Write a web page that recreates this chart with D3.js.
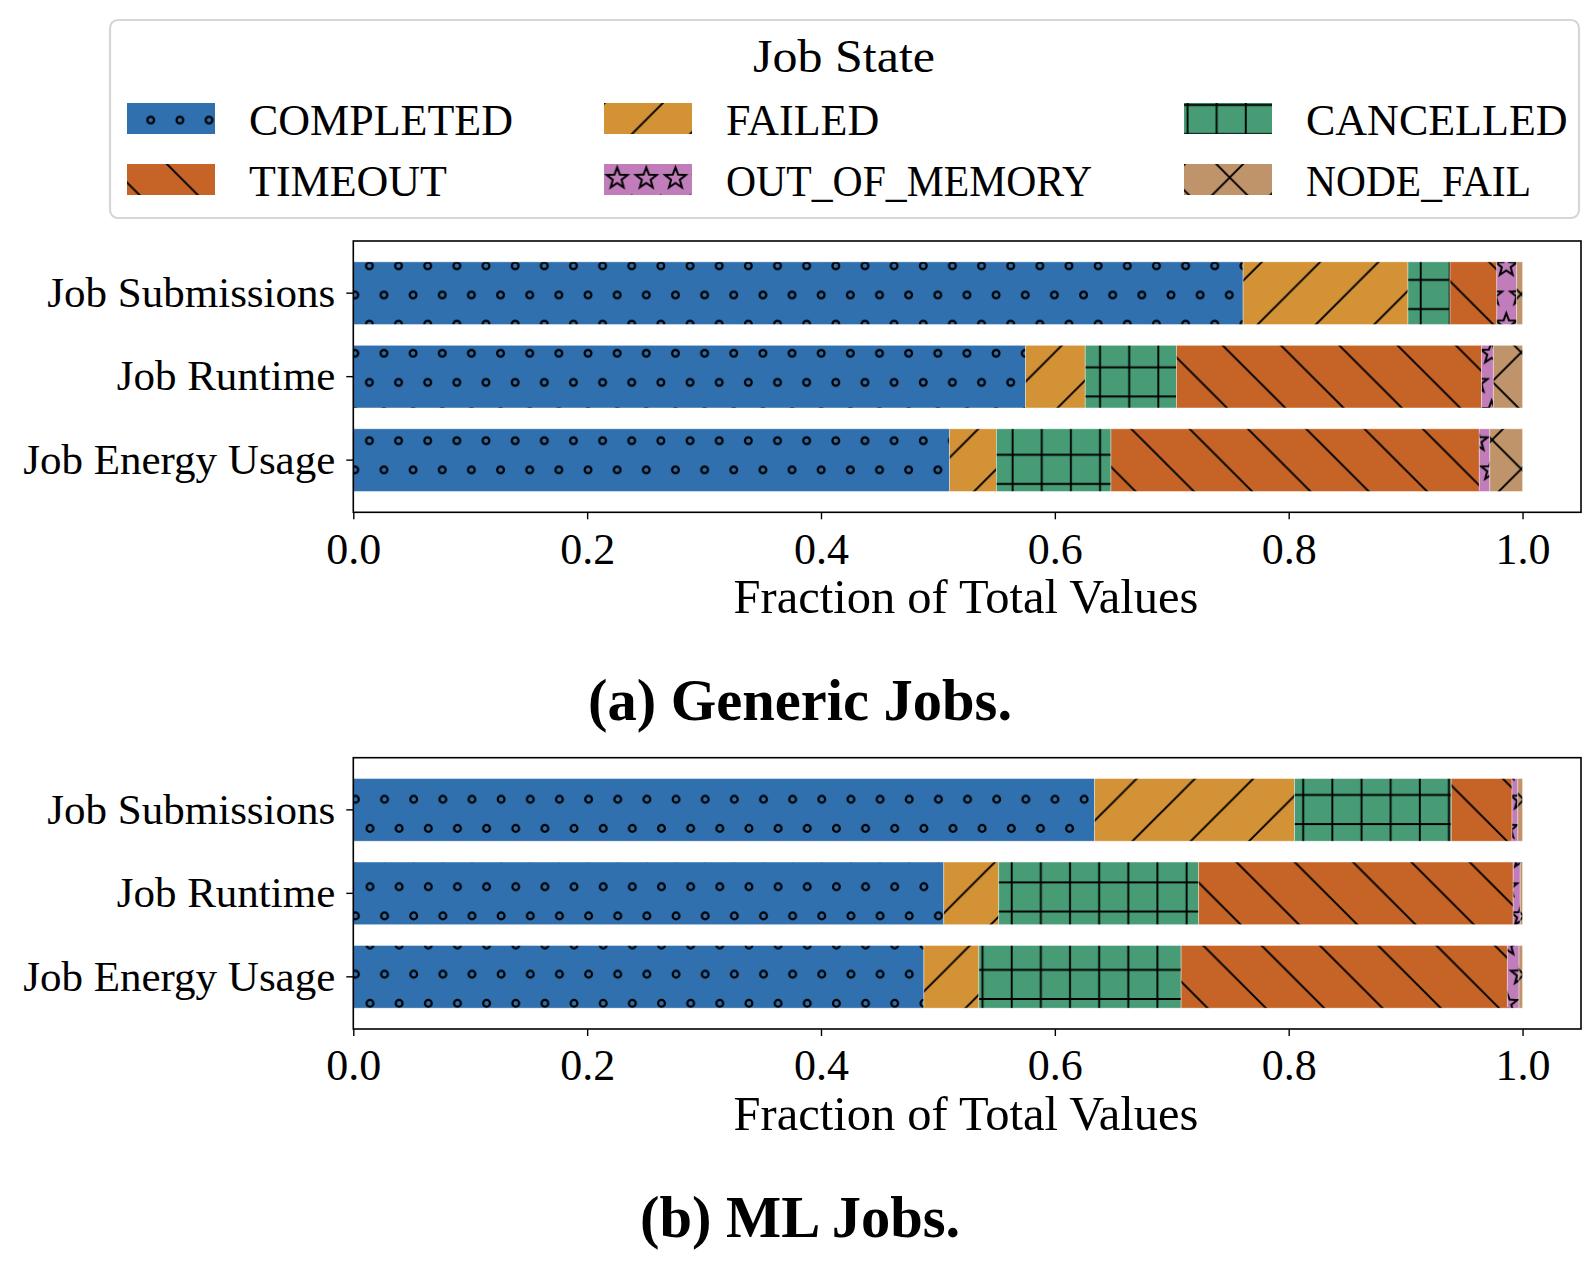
<!DOCTYPE html>
<html>
<head>
    <script src="https://d3js.org/d3.v7.min.js"></script>
    <title>Job State Fractions</title>
    <style>
        body { margin: 0; background: #fff; }
        text { font-family: "Liberation Serif", serif; fill: #000; }
    </style>
</head>
<body>
    <svg id="plot" width="1594" height="1262"></svg>
    <script>
        // data
        const categories = ["Job Submissions", "Job Runtime", "Job Energy Usage"];
        const states = ["COMPLETED", "FAILED", "CANCELLED", "TIMEOUT", "OUT_OF_MEMORY", "NODE_FAIL"];

        // fractions per row, in the order of states
        const genericSubmissions = [0.761, 0.141, 0.036, 0.040, 0.017, 0.005];
        const genericRuntime     = [0.575, 0.051, 0.078, 0.261, 0.010, 0.025];
        const genericEnergy      = [0.510, 0.040, 0.098, 0.315, 0.009, 0.028];
        const mlSubmissions      = [0.634, 0.171, 0.134, 0.052, 0.005, 0.004];
        const mlRuntime          = [0.505, 0.047, 0.171, 0.269, 0.006, 0.002];
        const mlEnergy           = [0.488, 0.047, 0.173, 0.279, 0.010, 0.003];

        const xTicks = [0, 0.2, 0.4, 0.6, 0.8, 1.0];
        const panelTitles = ["(a) Generic Jobs.", "(b) ML Jobs."];

        const colors = ["#3070ae", "#d49236", "#479c76", "#c66427", "#c07dba", "#c0946a"];
        const hatches = ["o", "/", "+", "\\", "*", "x"];

        const svg = d3.select('svg#plot');
        const T = 58.3;   // hatch tile, in page pixels
        const H = T / 2;
        const defs = svg.append('defs');

        function starPath(cx, cy, R) {
            let pts = [];
            for (let k = 0; k < 10; k++) {
                const r = k % 2 === 0 ? R : R * 0.42;
                const a = -Math.PI / 2 + k * Math.PI / 5;
                pts.push([cx + r * Math.cos(a), cy + r * Math.sin(a)]);
            }
            return 'M' + pts.map(p => p.join(',')).join('L') + 'Z';
        }

        // the two panels were saved separately, so the hatch phase differs
        const phases = [
            {dot: [0, 0], grid: [21.5, 17.5], slash: 8, back: 2.8},
            {dot: [0.6, -20.4], grid: [20.6, 7.95], slash: 49.7, back: 24.6}
        ];

        function makePatterns(tag, ph) {
            const dotBase = [[5, 3.5], [5 + H, 3.5], [19.6, 3.5 + H], [19.6 + H, 3.5 + H]];
            const dotPos = [];
            dotBase.forEach(d => [-T, 0, T].forEach(dx => [-T, 0, T].forEach(dy =>
                dotPos.push([d[0] + dx + ph.dot[0], d[1] + dy + ph.dot[1]]))));

            hatches.forEach((h, i) => {
                const p = defs.append('pattern')
                    .attr('id', `pat${tag}_${i}`)
                    .attr('patternUnits', 'userSpaceOnUse')
                    .attr('width', T).attr('height', T);
                p.append('rect').attr('width', T).attr('height', T).attr('fill', colors[i]);
                const g = p.append('g').attr('stroke', '#000').attr('stroke-width', 1.9).attr('fill', 'none');
                if (h === 'o') {
                    dotPos.forEach(d => g.append('circle').attr('cx', d[0]).attr('cy', d[1]).attr('r', 3.4).attr('stroke-width', 2.2));
                }
                if (h === '*') {
                    dotPos.forEach(d => g.append('path').attr('d', starPath(d[0], d[1], 11)).attr('stroke-width', 2));
                }
                if (h === '+') {
                    [-H, 0, H].forEach(k => {
                        const vx = ph.grid[0] + k, hy = ph.grid[1] + k;
                        g.append('line').attr('x1', vx).attr('x2', vx).attr('y1', 0).attr('y2', T);
                        g.append('line').attr('y1', hy).attr('y2', hy).attr('x1', 0).attr('x2', T);
                    });
                }
                if (h === '/' || h === 'x') {
                    // lines x + y = slash + n*T
                    [-1, 0, 1, 2].forEach(n => {
                        const c = ph.slash + n * T;
                        g.append('line').attr('x1', c + 10).attr('y1', -10).attr('x2', c - T - 10).attr('y2', T + 10);
                    });
                }
                if (h === '\\' || h === 'x') {
                    // lines x - y = back + n*T
                    [-2, -1, 0, 1].forEach(n => {
                        const c = ph.back + n * T;
                        g.append('line').attr('x1', c - 10).attr('y1', -10).attr('x2', c + T + 10).attr('y2', T + 10);
                    });
                }
            });
        }
        phases.forEach((ph, k) => makePatterns(k, ph));

        // layout
        const axLeft = 353.3, axRight = 1581, axHeight = 271.3;
        const panelTops = [241, 757.7];
        const panelRows = [[genericSubmissions, genericRuntime, genericEnergy],
                           [mlSubmissions, mlRuntime, mlEnergy]];

        const x = d3.scaleLinear().domain([0, 1.05]).range([axLeft, axRight]);

        panelRows.forEach((rows, pi) => {
            const top = panelTops[pi];
            const y = d3.scaleBand().domain(categories).range([top, top + axHeight])
                        .paddingInner(0.25).paddingOuter(0.25);

            const data = categories.map((c, i) => {
                let o = {category: c};
                states.forEach((s, j) => o[s] = rows[i][j]);
                return o;
            });
            const series = d3.stack().keys(states)(data);

            const chartArea = svg.append('g');

            series.forEach((s, si) => {
                chartArea.append('g').selectAll('rect')
                    .data(s).join('rect')
                    .attr('x', d => x(d[0]))
                    .attr('y', d => y(d.data.category))
                    .attr('width', d => x(d[1]) - x(d[0]))
                    .attr('height', y.bandwidth())
                    .attr('fill', `url(#pat${pi}_${si})`)
                    .attr('stroke', 'rgba(255,255,255,0.45)')
                    .attr('stroke-width', 0.8);
            });

            // x axis
            const xAxis = chartArea.append('g')
                .attr('transform', `translate(0,${top + axHeight})`)
                .call(d3.axisBottom(x).tickValues(xTicks).tickFormat(d3.format('.1f')).tickSize(7).tickPadding(13));
            xAxis.select('.domain').remove();
            xAxis.selectAll('line').attr('stroke', '#000').attr('stroke-width', 1.4);
            xAxis.selectAll('text').attr('font-size', 44).attr('font-family', 'Liberation Serif').attr('fill', '#000');

            // y axis
            const yAxis = chartArea.append('g')
                .attr('transform', `translate(${axLeft},0)`)
                .call(d3.axisLeft(y).tickSize(7).tickPadding(11));
            yAxis.select('.domain').remove();
            yAxis.selectAll('line').attr('stroke', '#000').attr('stroke-width', 1.4);
            yAxis.selectAll('text').attr('font-size', 43).attr('font-family', 'Liberation Serif').attr('fill', '#000');

            // frame
            chartArea.append('rect')
                .attr('x', axLeft).attr('y', top)
                .attr('width', axRight - axLeft).attr('height', axHeight)
                .attr('fill', 'none').attr('stroke', '#000').attr('stroke-width', 1.6);

            chartArea.append('text')
                .attr('x', 966)
                .attr('y', top + axHeight + 101)
                .attr('text-anchor', 'middle')
                .attr('font-size', 48.5)
                .text('Fraction of Total Values');

            chartArea.append('text')
                .attr('x', 800)
                .attr('y', top + axHeight + 208)
                .attr('text-anchor', 'middle')
                .attr('font-size', 58.5)
                .attr('font-weight', 'bold')
                .text(panelTitles[pi]);
        });

        // legend
        const legend = svg.append('g');
        legend.append('rect')
            .attr('x', 110).attr('y', 20).attr('width', 1469).attr('height', 198)
            .attr('rx', 8).attr('fill', '#fff')
            .attr('stroke', '#d6d6d6').attr('stroke-width', 2.2);
        legend.append('text')
            .attr('x', 844).attr('y', 72)
            .attr('text-anchor', 'middle').attr('font-size', 46)
            .attr('textLength', 182).attr('lengthAdjust', 'spacingAndGlyphs')
            .text('Job State');

        const colX = [127, 604, 1184];
        const rowY = [103, 164];
        const labelLen = {OUT_OF_MEMORY: 366, NODE_FAIL: 225};
        states.forEach((s, i) => {
            const cx = colX[i % 3], ry = rowY[Math.floor(i / 3)];
            legend.append('rect')
                .attr('x', cx).attr('y', ry).attr('width', 88).attr('height', 31)
                .attr('fill', `url(#pat0_${i})`);
            const t = legend.append('text')
                .attr('x', cx + 122).attr('y', ry + 32)
                .attr('font-size', 44)
                .text(s);
            if (labelLen[s]) t.attr('textLength', labelLen[s]).attr('lengthAdjust', 'spacingAndGlyphs');
        });
    </script>
</body>
</html>
